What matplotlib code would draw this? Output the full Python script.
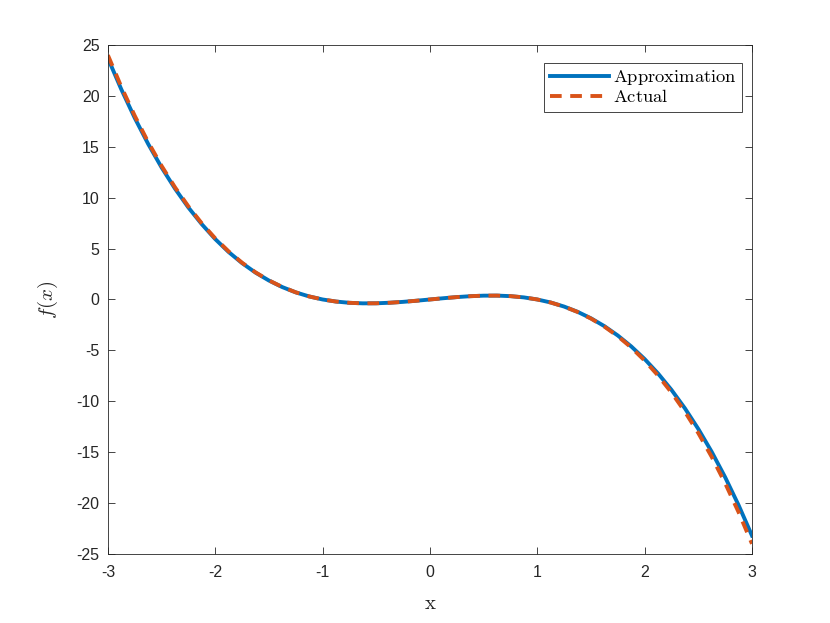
import numpy as np
import matplotlib
matplotlib.use('Agg')
from matplotlib import pyplot as plt

plt.rcParams['font.family'] = ['Liberation Sans', 'DejaVu Sans']
plt.rcParams['mathtext.fontset'] = 'cm'
plt.rcParams['axes.unicode_minus'] = False

x_values = np.arange(-3, 3.0001, 0.125)

approx_values = [23.7, 20.64, 17.83, 15.28, 12.97, 10.89, 9.03, 7.39, 5.93,
                 4.66, 3.57, 2.64, 1.86, 1.215, 0.698, 0.297, 0.0,
                 -0.204, -0.327, -0.380, -0.374, -0.321, -0.234, -0.123,
                 0.0,
                 0.123, 0.234, 0.322, 0.375, 0.381, 0.328, 0.204, 0.0,
                 -0.297, -0.697, -1.21, -1.85, -2.62, -3.54, -4.61, -5.85,
                 -7.27, -8.88, -10.69, -12.72, -14.97, -17.46, -20.20, -23.2]

actual_values = [24.0, 20.889, 18.047, 15.463, 13.125, 11.021, 9.141, 7.471, 6.0,
                 4.717, 3.609, 2.666, 1.875, 1.225, 0.703, 0.299, 0.0,
                 -0.205, -0.328, -0.381, -0.375, -0.322, -0.234, -0.123,
                 0.0,
                 0.123, 0.234, 0.322, 0.375, 0.381, 0.328, 0.205, 0.0,
                 -0.299, -0.703, -1.225, -1.875, -2.666, -3.609, -4.717, -6.0,
                 -7.471, -9.141, -11.021, -13.125, -15.463, -18.047, -20.889, -24.0]

x_ticks = [-3, -2, -1, 0, 1, 2, 3]
y_ticks = list(range(-25, 26, 5))

axis_color = '#262626'

figure = plt.figure(figsize=(8.3, 6.23), dpi=100)
ax = figure.add_axes([0.130, 0.1108, 0.776, 0.817])

ax.plot(x_values, approx_values, color='#0072BD', linewidth=2.8,
        label=r'$\mathrm{Approximation}$')
ax.plot(x_values, actual_values, color='#D95319', linewidth=2.8,
        linestyle=(0, (3, 2.2)), label=r'$\mathrm{Actual}$')

ax.set_xlim(-3, 3)
ax.set_ylim(-25, 25)
ax.set_xticks(x_ticks)
ax.set_yticks(y_ticks)
ax.tick_params(direction='in', top=True, right=True, labelsize=11.5,
               colors=axis_color, length=5, width=0.6)
ax.tick_params(axis='x', pad=8)
ax.tick_params(axis='y', pad=6)
for spine in ax.spines.values():
    spine.set_color(axis_color)
    spine.set_linewidth(0.6)

ax.set_xlabel(r'$\mathrm{x}$', fontsize=15, color=axis_color, labelpad=10)
ax.set_ylabel(r'$f(x)$', fontsize=15, color=axis_color, labelpad=12)

legend = ax.legend(loc='upper right', bbox_to_anchor=(0.9845, 0.965),
                   fontsize=13.3, fancybox=False,
                   framealpha=1, edgecolor=axis_color, borderpad=0.3,
                   handlelength=3.2, handletextpad=0.2, labelspacing=0.1,
                   borderaxespad=0)
legend.get_frame().set_linewidth(0.6)

figure.savefig('out.png', dpi=100)
